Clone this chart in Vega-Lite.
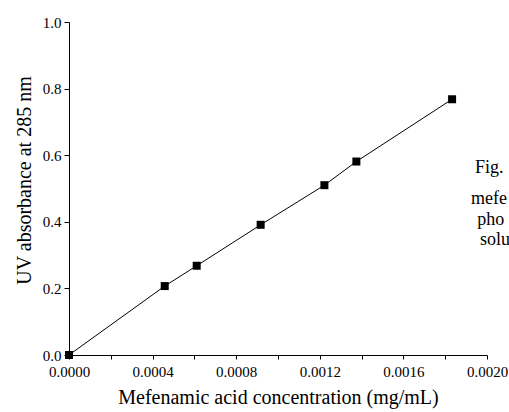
{
  "$schema": "https://vega.github.io/schema/vega-lite/v6.json",
  "autosize": {"type": "none"},
  "width": 418,
  "height": 333,
  "padding": {"left": 69, "top": 22, "right": 22, "bottom": 57},
  "background": "white",
  "config": {"view": {"stroke": null}, "font": "Liberation Serif"},
  "datasets": {
    "pts": [
      {"conc": 0.0, "abs": 0.0},
      {"conc": 0.000458, "abs": 0.207},
      {"conc": 0.000611, "abs": 0.268},
      {"conc": 0.000917, "abs": 0.391},
      {"conc": 0.001222, "abs": 0.510},
      {"conc": 0.001375, "abs": 0.581},
      {"conc": 0.001833, "abs": 0.768}
    ],
    "side": [
      {"conc": 0.001943, "abs": 0.562, "t": "Fig."},
      {"conc": 0.001924, "abs": 0.467, "t": "mefe"},
      {"conc": 0.001953, "abs": 0.405, "t": "pho"},
      {"conc": 0.001967, "abs": 0.345, "t": "solu"}
    ]
  },
  "layer": [
    {
      "data": {"name": "pts"},
      "mark": {"type": "line", "color": "black", "strokeWidth": 1},
      "encoding": {
        "x": {
          "field": "conc", "type": "quantitative",
          "scale": {"domain": [0, 0.002], "nice": false},
          "axis": {
            "title": "Mefenamic acid concentration (mg/mL)",
            "values": [0, 0.0002, 0.0004, 0.0006, 0.0008, 0.001, 0.0012, 0.0014, 0.0016, 0.0018, 0.002],
            "labelExpr": "(round(datum.value*10000) % 4 == 0) ? format(datum.value, '.4f') : ''",
            "grid": false, "domainColor": "black", "tickColor": "black", "tickSize": 4,
            "labelFont": "Liberation Serif", "titleFont": "Liberation Serif",
            "labelFontSize": 15, "labelColor": "black", "labelPadding": 5,
            "titleFontSize": 20, "titleFontWeight": "normal", "titleColor": "black", "titlePadding": 8,
            "labelFlush": false, "labelOverlap": false
          }
        },
        "y": {
          "field": "abs", "type": "quantitative",
          "scale": {"domain": [0, 1], "nice": false},
          "axis": {
            "title": "UV absorbance at 285 nm",
            "values": [0, 0.1, 0.2, 0.3, 0.4, 0.5, 0.6, 0.7, 0.8, 0.9, 1.0],
            "labelExpr": "(round(datum.value*10) % 2 == 0) ? format(datum.value, '.1f') : ''",
            "grid": false, "domainColor": "black", "tickColor": "black", "tickSize": 5,
            "labelFont": "Liberation Serif", "titleFont": "Liberation Serif",
            "labelFontSize": 15, "labelColor": "black", "labelPadding": 3,
            "titleFontSize": 20, "titleFontWeight": "normal", "titleColor": "black", "titlePadding": 8,
            "titleY": 158,
            "labelFlush": false, "labelOverlap": false
          }
        }
      }
    },
    {
      "data": {"name": "pts"},
      "mark": {"type": "point", "shape": "square", "filled": true, "color": "black", "size": 64, "opacity": 1},
      "encoding": {
        "x": {"field": "conc", "type": "quantitative"},
        "y": {"field": "abs", "type": "quantitative"}
      }
    },
    {
      "data": {"name": "side"},
      "mark": {"type": "text", "align": "left", "baseline": "middle", "fontSize": 18, "font": "Liberation Serif", "color": "black", "clip": false},
      "encoding": {
        "x": {"field": "conc", "type": "quantitative"},
        "y": {"field": "abs", "type": "quantitative"},
        "text": {"field": "t"}
      }
    }
  ]
}
